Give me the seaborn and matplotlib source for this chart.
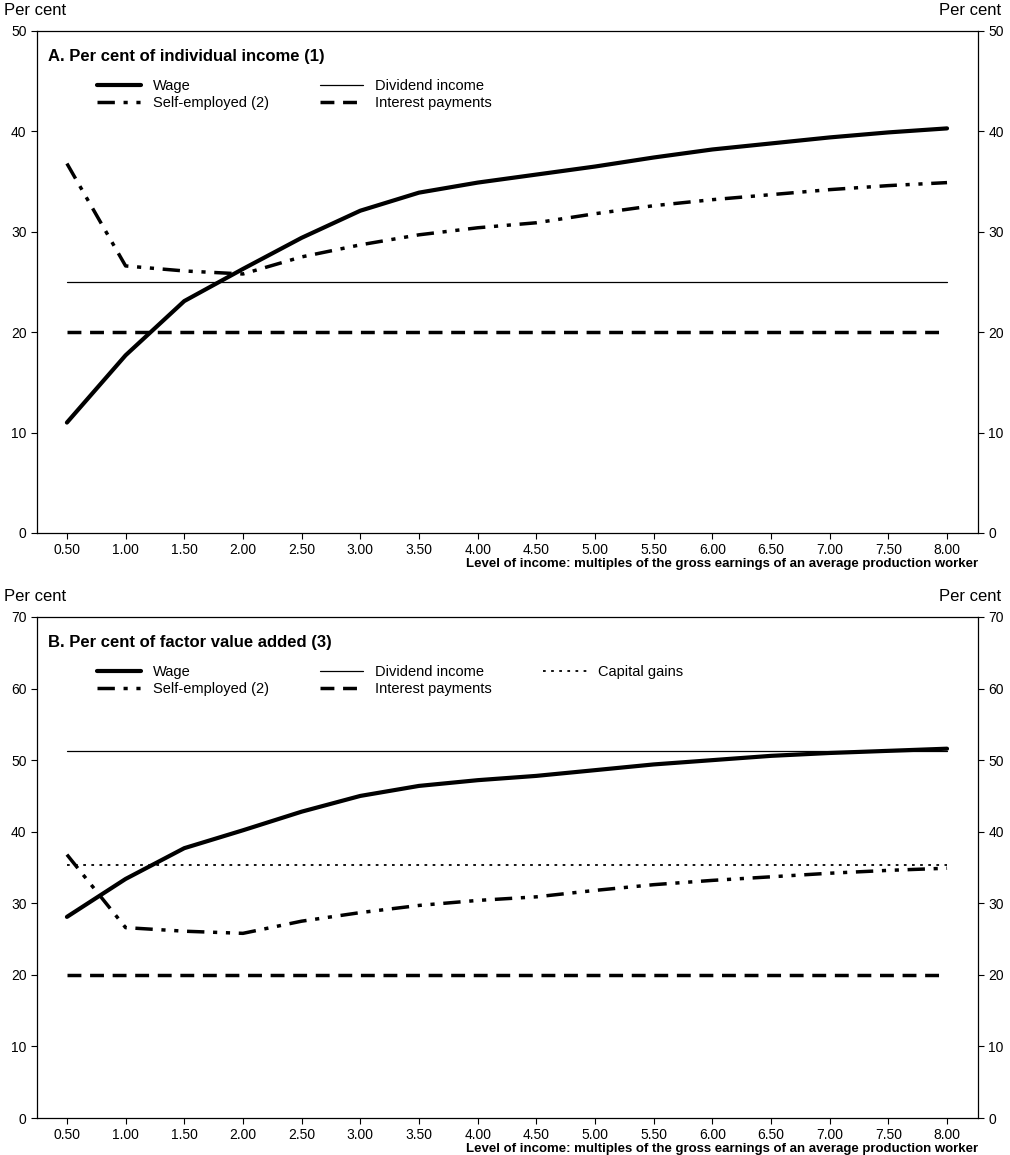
import matplotlib
matplotlib.use("Agg")
import matplotlib.pyplot as plt
import seaborn as sns
import pandas as pd

sns.set_style("ticks")
plt.rcParams['font.family'] = ['Liberation Sans', 'DejaVu Sans']
plt.rcParams['text.color'] = 'black'
plt.rcParams['xtick.color'] = 'black'
plt.rcParams['ytick.color'] = 'black'

x = [0.5, 1.0, 1.5, 2.0, 2.5, 3.0, 3.5, 4.0, 4.5, 5.0, 5.5, 6.0, 6.5, 7.0, 7.5, 8.0]
xticklabels = ["%.2f" % v for v in x]
wage_a = [11.0, 17.7, 23.1, 26.3, 29.4, 32.1, 33.9, 34.9, 35.7, 36.5, 37.4, 38.2, 38.8, 39.4, 39.9, 40.3]
self_emp = [36.8, 26.6, 26.1, 25.8, 27.5, 28.7, 29.7, 30.4, 30.9, 31.8, 32.6, 33.2, 33.7, 34.2, 34.6, 34.9]
dividend_a = 25.0
interest = 20.0
wage_b = [28.1, 33.4, 37.7, 40.2, 42.8, 45.0, 46.4, 47.2, 47.8, 48.6, 49.4, 50.0, 50.6, 51.0, 51.3, 51.6]
dividend_b = 51.3
capgains_b = 35.3

fig = plt.figure(figsize=(10.1, 11.55), dpi=100)
W, H = 1010, 1155
def mkax(top, bottom):
    return fig.add_axes([37/W, 1-bottom/H, (978-37)/W, (bottom-top)/H])

axA = mkax(31, 533)
axB = mkax(617, 1118)

def draw(ax, wage, div, cg, ymax, title, ncol):
    n = len(x)
    sns.lineplot(x=x, y=wage, ax=ax, color='black', lw=3, label='Wage')
    sns.lineplot(x=x, y=self_emp, ax=ax, color='black', lw=2.5, label='Self-employed (2)')
    ax.lines[-1].set_dashes([5, 2.5, 1.2, 2.5, 1.2, 2.5])
    sns.lineplot(x=x, y=[div]*n, ax=ax, color='black', lw=0.9, label='Dividend income')
    sns.lineplot(x=x, y=[interest]*n, ax=ax, color='black', lw=2.5, label='Interest payments')
    ax.lines[-1].set_dashes([4, 2.5])
    if cg is not None:
        sns.lineplot(x=x, y=[cg]*n, ax=ax, color='black', lw=1.3, label='Capital gains')
        ax.lines[-1].set_dashes([1.5, 3])
    h, l = ax.get_legend_handles_labels()
    ax.legend(h, l, ncol=ncol, frameon=False, loc='upper left', bbox_to_anchor=(0.05, 0.93),
              fontsize=10.5, handlelength=3, columnspacing=3.5, labelspacing=0.2)
    ax.set_xlim(0.245, 8.264)
    ax.set_ylim(0, ymax)
    ax.set_xticks(x)
    ax.set_xticklabels(xticklabels, fontsize=10)
    ax.tick_params(axis='both', labelsize=10, direction='out', length=4,
                   right=True, labelright=True)
    ax.text(0.012, 0.965, title, transform=ax.transAxes, fontsize=12,
            fontweight='bold', va='top')
    ax.text(1.0, -0.05, 'Level of income: multiples of the gross earnings of an average production worker',
            transform=ax.transAxes, ha='right', va='top', fontsize=9.5, fontweight='bold')
    ax.text(-0.035, 1.025, 'Per cent', transform=ax.transAxes, ha='left', va='bottom', fontsize=12)
    ax.text(1.025, 1.025, 'Per cent', transform=ax.transAxes, ha='right', va='bottom', fontsize=12)
    for s in ax.spines.values():
        s.set_color('black'); s.set_linewidth(0.9)

draw(axA, wage_a, dividend_a, None, 50, 'A. Per cent of individual income (1)', 2)
draw(axB, wage_b, dividend_b, capgains_b, 70, 'B. Per cent of factor value added (3)', 3)

fig.savefig('out.png', dpi=100)
